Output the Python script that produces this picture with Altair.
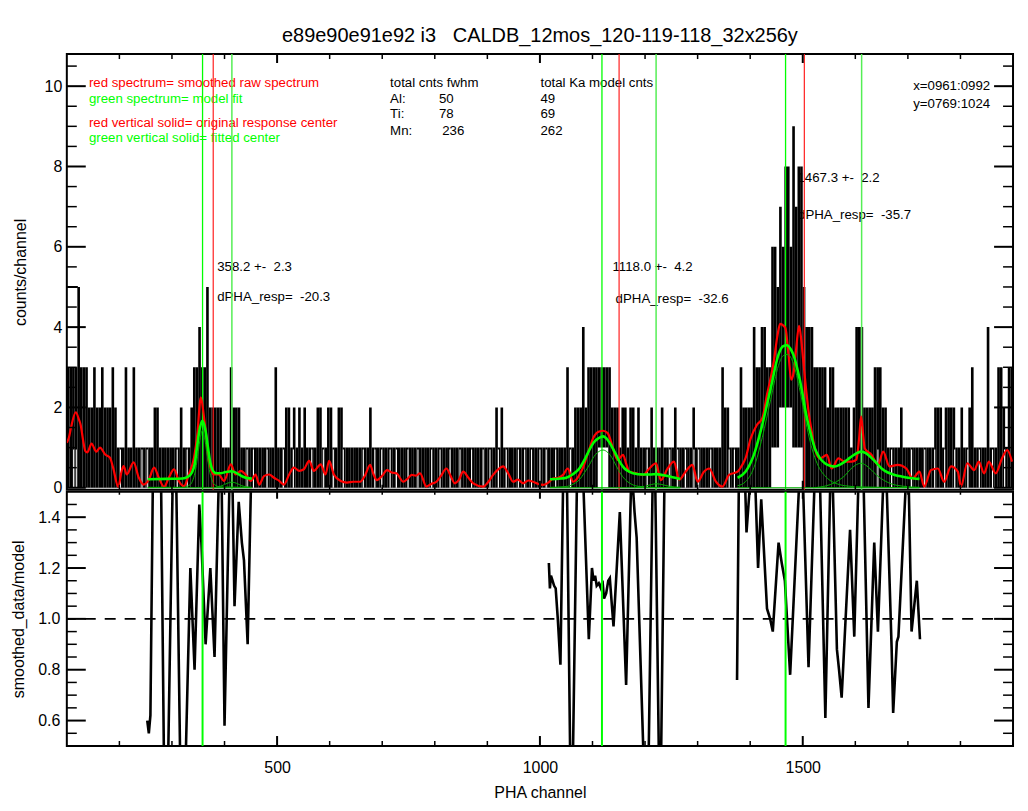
import altair as alt
import pandas as pd

FONT = "Liberation Sans"
X_DOMAIN = [100, 1900]
TOP_DOMAIN = [-0.05, 10.8]
BOT_DOMAIN = [0.5, 1.5]
W, H_TOP, H_BOT = 949, 437, 255


def keep_spaces(s):
    # SVG collapses runs of spaces; keep them with no-break spaces
    out, prev = [], ""
    for ch in s:
        out.append("\u00a0" if (ch == " " and prev == " ") else ch)
        prev = ch
    return "".join(out)


# ---------------- raw spectrum (max counts per 5-channel block, from ch 100) -------------
hist_block = 5
hist_hi = [
    3, 3, 3, 3, 5, 3, 3, 3, 2, 2, 3, 2, 2, 3, 2, 2, 2, 3, 2, 1,   # 100
    1, 1, 3, 1, 1, 3, 1, 1, 1, 1, 1, 1, 1, 2, 2, 1, 1, 1, 1, 1,   # 200
    1, 1, 1, 2, 1, 1, 1, 2, 3, 3, 4, 3, 3, 5, 2, 2, 2, 2, 2, 1,   # 300
    1, 1, 3, 2, 2, 2, 1, 1, 1, 1, 1, 1, 1, 1, 1, 1, 1, 1, 1, 3,   # 400
    1, 1, 1, 2, 2, 1, 2, 1, 2, 1, 2, 1, 1, 1, 1, 2, 2, 1, 1, 2,   # 500
    2, 1, 1, 2, 2, 1, 1, 1, 1, 1, 1, 1, 1, 1, 1, 2, 1, 1, 1, 1,   # 600
    1, 1, 1, 1, 1, 1, 1, 1, 1, 1, 1, 1, 1, 1, 1, 1, 1, 1, 1, 1,   # 700
    1, 1, 1, 1, 1, 1, 1, 1, 1, 1, 1, 1, 1, 1, 1, 1, 1, 1, 1, 1,   # 800
    1, 1, 1, 2, 1, 2, 1, 1, 1, 1, 1, 1, 1, 1, 1, 1, 1, 1, 1, 1,   # 900
    1, 1, 1, 1, 1, 1, 1, 1, 1, 1, 3, 1, 1, 2, 2, 2, 4, 2, 3, 3,   # 1000
    3, 3, 3, 3, 3, 3, 3, 2, 2, 2, 1, 2, 2, 1, 2, 2, 1, 2, 1, 1,   # 1100
    1, 1, 2, 1, 1, 1, 2, 1, 1, 1, 1, 2, 1, 1, 1, 1, 1, 1, 2, 1,   # 1200
    1, 1, 1, 1, 1, 1, 1, 1, 1, 3, 2, 2, 1, 1, 1, 1, 3, 2, 2, 2,   # 1300
    2, 4, 3, 3, 4, 4, 3, 3, 6, 6, 5, 7, 6, 8, 8, 6, 9, 7, 8, 8,   # 1400
    5, 4, 4, 4, 3, 3, 3, 3, 3, 2, 3, 3, 2, 2, 2, 2, 2, 2, 1, 2,   # 1500
    4, 4, 4, 2, 2, 2, 2, 3, 3, 3, 2, 2, 1, 1, 1, 1, 1, 2, 1, 1,   # 1600
    1, 1, 1, 1, 1, 1, 1, 1, 1, 1, 2, 2, 2, 1, 2, 2, 2, 2, 1, 1,   # 1700
    2, 1, 1, 2, 3, 1, 1, 1, 1, 1, 4, 1, 1, 1, 3, 3, 2, 1, 3, 3,   # 1800
]
hist_lo_start = [1110, 1440, 1455]
hist_lo_end = [1130, 1500, 1480]
hist_lo_val = [1, 1, 2]
hist_box_start = [100]
hist_box_end = [121]
hist_box_level = [5]
hist_flat_ch = [113, 118, 202, 243, 253, 310, 329, 443, 455, 481, 512, 531, 566, 588,
                607, 626, 664, 686, 699, 715, 727, 749, 768, 794, 810, 829, 848, 870,
                892, 905, 921, 936, 959, 971, 984, 1000, 1012, 1030, 1058, 1204, 1247,
                1262, 1277, 1293, 1302, 1325, 1360, 1370, 1643, 1669, 1707, 1732, 1751,
                1770, 1789, 1814, 1836, 1861, 1884]

# ---------------- smoothed spectrum (red) ----------------
red_ch = [100, 104, 108, 117, 123, 126, 132, 135, 139, 147, 156, 163, 173, 182, 188, 198,
          204, 208, 214, 227, 237, 246, 256, 266, 275, 285, 294, 304, 313, 323, 332, 342,
          348, 355, 361, 366, 370, 380, 389, 399, 412, 421, 431, 440, 450, 459, 466, 475,
          485, 494, 504, 513, 523, 532, 542, 551, 561, 570, 583, 592, 599, 608, 621, 633,
          645, 658, 667, 677, 683, 690, 700, 709, 718, 727, 740, 748, 756, 764, 772, 784,
          794, 803, 812, 822, 830, 838, 846, 854, 864, 873, 892, 902, 911, 920, 930, 940,
          949, 958, 968, 978, 987, 996, 1006, 1015, 1025, 1035, 1044, 1053, 1063, 1069,
          1075, 1082, 1088, 1095, 1101, 1107, 1113, 1120, 1129, 1134, 1139, 1148, 1158,
          1164, 1170, 1183, 1196, 1208, 1221, 1230, 1243, 1255, 1265, 1277, 1290, 1300,
          1312, 1322, 1335, 1347, 1360, 1376, 1384, 1391, 1401, 1413, 1423, 1432, 1445,
          1452, 1457, 1462, 1467, 1473, 1478, 1483, 1487, 1493, 1497, 1501, 1506, 1511,
          1517, 1523, 1533, 1546, 1555, 1568, 1580, 1593, 1602, 1607, 1611, 1615, 1618,
          1631, 1643, 1653, 1665, 1681, 1697, 1709, 1722, 1731, 1744, 1757, 1769, 1782,
          1795, 1801, 1813, 1826, 1835, 1845, 1854, 1867, 1879, 1889, 1898]
red_val = [1.12, 1.25, 1.5, 1.88, 1.7, 1.58, 1.1, 0.92, 0.88, 1.1, 0.9, 1.0, 0.83, 0.75, 0.5, 0.02,
           0.4, 0.54, 0.33, 0.63, 0.25, 0.08, 0.2, 0.5, 0.25, 0.02, 0.25, 0.46, 0.17, 0.04, 0.33, 0.75,
           1.3, 2.25, 1.75, 1.2, 0.67, 0.33, 0.33, 0.17, 0.58, 0.33, 0.42, 0.33, 0.17, 0.33, 0.08, 0.29,
           0.33, 0.25, 0.17, 0.08, 0.33, 0.5, 0.42, 0.46, 0.67, 0.42, 0.58, 0.33, 0.67, 0.33, 0.17, 0.13,
           0.15, 0.15, 0.3, 0.57, 0.35, 0.19, 0.3, 0.44, 0.38, 0.36, 0.15, 0.22, 0.32, 0.3, 0.36, 0.03,
           0.1, 0.15, 0.3, 0.48, 0.3, 0.11, 0.2, 0.4, 0.25, 0.11, 0.03, 0.15, 0.32, 0.45, 0.53, 0.35,
           0.15, 0.2, 0.11, 0.18, 0.15, 0.1, 0.07, 0.12, 0.23, 0.25, 0.32, 0.48, 0.15, 0.2,
           0.32, 0.5, 0.73, 1.0, 1.23, 1.35, 1.4, 1.42, 1.36, 1.2, 0.98, 0.69, 0.82,
           0.6, 0.4, 0.36, 0.32, 0.48, 0.61, 0.19, 0.48, 0.65, 0.2, 0.4, 0.57, 0.15,
           0.4, 0.48, 0.15, 0.03, 0.32, 0.4, 0.55, 0.73, 1.23, 1.57, 1.73, 2.32, 3.15,
           3.8, 4.08, 4.05, 3.98, 3.3, 2.69, 2.9, 3.4, 4.03, 3.7, 3.15, 2.5, 1.9,
           1.4, 0.98, 0.73, 0.82, 0.48, 0.73, 0.65, 0.65, 0.7, 1.2, 1.78, 1.3, 0.98,
           0.82, 0.57, 0.9, 0.53, 0.57, 0.48, 0.23, 0.4, 0.03, 0.44, 0.48, 0.15, 0.53,
           0.4, 0.03, 0.61, 0.44, 0.65, 0.36, 0.65, 0.36, 0.73, 0.94, 0.65]

# ---------------- model fit (thick green) per line ----------------
al_fit_ch = [254, 290, 320, 330, 338, 343, 348, 353, 358, 363, 368, 373, 378, 384, 392, 402, 414, 424, 434, 444, 452]
al_fit_val = [0.21, 0.22, 0.23, 0.27, 0.38, 0.58, 1.05, 1.48, 1.67, 1.48, 1.05, 0.62, 0.42, 0.36, 0.36, 0.39, 0.41, 0.36, 0.28, 0.24, 0.23]
ti_fit_ch = [1019, 1040, 1050, 1062, 1075, 1085, 1094, 1103, 1110, 1120, 1129, 1137, 1145, 1153, 1161, 1170, 1177, 1196, 1210, 1221, 1235, 1250, 1267]
ti_fit_val = [0.21, 0.23, 0.25, 0.33, 0.48, 0.7, 0.94, 1.14, 1.22, 1.28, 1.19, 1.02, 0.82, 0.62, 0.48, 0.4, 0.36, 0.33, 0.33, 0.34, 0.31, 0.27, 0.22]
mn_fit_ch = [1376, 1391, 1407, 1423, 1439, 1454, 1462, 1470, 1477, 1482, 1495, 1508, 1516, 1523, 1532, 1542, 1552, 1561, 1570, 1580, 1590, 1599, 1611, 1620, 1628, 1640, 1650, 1662, 1675, 1688, 1700, 1722]
mn_fit_val = [0.25, 0.4, 0.82, 1.57, 2.48, 3.32, 3.52, 3.55, 3.45, 3.32, 2.65, 1.73, 1.3, 0.98, 0.75, 0.61, 0.55, 0.53, 0.57, 0.65, 0.75, 0.83, 0.9, 0.86, 0.78, 0.62, 0.48, 0.38, 0.32, 0.28, 0.25, 0.22]

# ---------------- model components (thin green) ----------------
al_ka_ch = [254, 320, 335, 340, 345, 350, 354, 358, 362, 366, 371, 376, 381, 392, 452]
al_ka_val = [0.01, 0.01, 0.08, 0.2, 0.45, 0.9, 1.25, 1.43, 1.25, 0.9, 0.45, 0.2, 0.08, 0.02, 0.01]
al_kb_ch = [380, 395, 405, 414, 423, 433, 448]
al_kb_val = [0.0, 0.05, 0.11, 0.14, 0.11, 0.05, 0.01]
ti_ka_ch = [1019, 1050, 1065, 1075, 1085, 1094, 1103, 1110, 1120, 1129, 1137, 1145, 1153, 1161, 1170, 1185, 1210, 1267]
ti_ka_val = [0.01, 0.03, 0.1, 0.2, 0.38, 0.57, 0.78, 0.88, 0.94, 0.88, 0.75, 0.55, 0.36, 0.22, 0.12, 0.04, 0.01, 0.0]
ti_kb_ch = [1180, 1200, 1212, 1221, 1232, 1245, 1267]
ti_kb_val = [0.0, 0.04, 0.08, 0.1, 0.08, 0.04, 0.01]
mn_ka_ch = [1376, 1391, 1407, 1423, 1439, 1454, 1462, 1470, 1477, 1482, 1495, 1508, 1516, 1523, 1532, 1542, 1552, 1561, 1580, 1611, 1722]
mn_ka_val = [0.05, 0.15, 0.5, 1.25, 2.2, 3.05, 3.28, 3.32, 3.25, 3.1, 2.4, 1.5, 1.05, 0.75, 0.48, 0.3, 0.18, 0.12, 0.05, 0.02, 0.0]
mn_kb_ch = [1520, 1545, 1560, 1570, 1580, 1590, 1600, 1611, 1620, 1630, 1640, 1655, 1670, 1690, 1722]
mn_kb_val = [0.0, 0.05, 0.12, 0.2, 0.3, 0.45, 0.56, 0.61, 0.56, 0.45, 0.32, 0.18, 0.09, 0.04, 0.01]
base_start = [254, 1019, 1376]
base_end = [452, 1267, 1722]
base_level = [0.0, 0.0, 0.0]

# ---------------- ratio smoothed/model ----------------
ratio_al_ch = [253, 256, 259, 268, 272, 276, 287, 290, 305, 318, 322, 335, 343, 352, 356, 364, 373, 381, 392, 393,
               400, 412, 413, 419, 427, 433, 437, 444, 450, 452]
ratio_al_val = [0.6, 0.55, 0.62, 2.4, 2.6, 2.2, 0.0, 0.1, 2.0, 0.1, 0.1, 1.2, 0.8, 1.45, 1.3, 0.9, 1.2, 0.85, 1.8, 1.8,
                0.58, 1.8, 1.8, 1.05, 1.46, 1.3, 1.23, 0.9, 1.5, 1.65]
ratio_ti_ch = [1017, 1019, 1021, 1024, 1027, 1030, 1034, 1039, 1046, 1050, 1059, 1061, 1073, 1078, 1093, 1099, 1102,
               1105, 1108, 1112, 1116, 1119, 1122, 1126, 1130, 1133, 1137, 1140, 1152, 1164, 1173, 1176, 1180, 1184,
               1201, 1205, 1217, 1228, 1229, 1239, 1250, 1267]
ratio_ti_val = [1.22, 1.12, 1.17, 1.15, 1.13, 1.12, 1.0, 0.82, 1.8, 1.8, 0.2, 0.2, 1.9, 1.8, 0.92, 1.2, 1.15,
                1.17, 1.13, 1.14, 1.12, 1.15, 1.08, 1.1, 1.15, 1.16, 1.05, 0.97, 1.42, 0.74, 1.5, 1.55, 1.42, 1.32,
                0.2, 0.2, 1.9, 0.2, 0.2, 1.9, 2.5, 2.5]
ratio_mn_ch = [1375, 1380, 1386, 1388, 1393, 1402, 1407, 1415, 1421, 1432, 1438, 1443, 1454, 1460, 1466, 1476, 1497,
               1498, 1511, 1525, 1531, 1543, 1554, 1555, 1565, 1569, 1574, 1590, 1598, 1608, 1614, 1625, 1636, 1643,
               1656, 1657, 1669, 1672, 1679, 1682, 1700, 1707, 1717, 1723]
ratio_mn_val = [0.76, 1.9, 1.9, 1.7, 1.34, 1.6, 1.7, 1.2, 1.47, 1.04, 1.0, 0.95, 1.3, 1.22, 1.15, 0.78, 1.7,
                1.7, 0.81, 1.7, 1.7, 0.61, 1.7, 1.7, 0.88, 0.8, 0.69, 1.35, 0.93, 1.7, 1.7, 0.65, 1.3, 0.95,
                1.7, 1.7, 0.89, 0.63, 0.91, 0.93, 1.7, 0.95, 1.15, 0.92]
ratio_ref = [1.0]

# ---------------- vertical markers ----------------
fit_centers = [358.2, 1118.0, 1467.3]
kb_centers = [414.0, 1221.0, 1612.0]
resp_centers = [378.5, 1150.6, 1503.0]

# ---------------- annotation text ----------------
legend_text = ["red spectrum= smoothed raw spectrum", "green spectrum= model fit",
               "red vertical solid= original response center", "green vertical solid= fitted center"]
legend_color = ["#ff0000", "#00ff00", "#ff0000", "#00ff00"]
legend_ch = [142, 142, 142, 142]
legend_val = [10.07, 9.67, 9.09, 8.70]

table_text = ["total cnts fwhm", "Al:", "Ti:", "Mn:", "50", "78", "236",
              "total Ka model cnts", "49", "69", "262"]
table_ch = [715, 715, 715, 715, 808, 808, 814, 1001, 1001, 1001, 1001]
table_val = [10.07, 9.68, 9.30, 8.88, 9.68, 9.30, 8.88, 10.07, 9.68, 9.30, 8.88]

region_text = ["x=0961:0992", "y=0769:1024"]
region_ch = [1710, 1710]
region_val = [10.0, 9.55]

peak_text = ["358.2 +-  2.3", "dPHA_resp=  -20.3", "1118.0 +-  4.2", "dPHA_resp=  -32.6",
             "1467.3 +-  2.2", "dPHA_resp=  -35.7"]
peak_ch = [386, 386, 1138, 1144, 1490, 1491]
peak_val = [5.49, 4.74, 5.49, 4.70, 7.72, 6.80]

title_text = "e89e90e91e92 i3   CALDB_12mos_120-119-118_32x256y"

# ---------------- tick positions ----------------
x_major = [500, 1000, 1500]
x_minor = [200, 300, 400, 600, 700, 800, 900, 1100, 1200, 1300, 1400, 1600, 1700, 1800]
top_y_major = [0, 2, 4, 6, 8, 10]
top_y_minor = [0.5, 1, 1.5, 2.5, 3, 3.5, 4.5, 5, 5.5, 6.5, 7, 7.5, 8.5, 9, 9.5, 10.5]
bot_y_major = [0.6, 0.8, 1.0, 1.2, 1.4]
bot_y_minor = [0.55, 0.65, 0.7, 0.75, 0.85, 0.9, 0.95, 1.05, 1.1, 1.15, 1.25, 1.3, 1.35, 1.45]

# =====================================================================
AX_TOP_Y = alt.Axis(values=top_y_major, format="d", title="counts/channel", ticks=False, tickSize=0,
                    domain=False, grid=False, labelPadding=5, labelFontSize=16, titleFontSize=16,
                    titleFontWeight="normal", titleX=-46, titleBaseline="middle", labelColor="black",
                    titleColor="black", labelFont=FONT, titleFont=FONT)
AX_BOT_Y = alt.Axis(values=bot_y_major, format=".1f", title="smoothed_data/model", ticks=False, tickSize=0,
                    domain=False, grid=False, labelPadding=7, labelFontSize=16, titleFontSize=16,
                    titleFontWeight="normal", titleX=-48, titleBaseline="middle", labelColor="black",
                    titleColor="black", labelFont=FONT, titleFont=FONT)
AX_BOT_X = alt.Axis(values=x_major, format="d", title="PHA channel", ticks=False, tickSize=0,
                    domain=False, grid=False, labelPadding=14, titlePadding=9, labelFontSize=16,
                    titleFontSize=16, titleFontWeight="normal", labelColor="black", titleColor="black",
                    labelFont=FONT, titleFont=FONT)

xs = alt.Scale(domain=X_DOMAIN, nice=False, zero=False)
ys_top = alt.Scale(domain=TOP_DOMAIN, nice=False, zero=False)
ys_bot = alt.Scale(domain=BOT_DOMAIN, nice=False, zero=False)


def X(field, axis):
    return alt.X(f"{field}:Q", scale=xs, axis=axis)


def YT(field):
    return alt.Y(f"{field}:Q", scale=ys_top, axis=AX_TOP_Y)


def YB(field):
    return alt.Y(f"{field}:Q", scale=ys_bot, axis=AX_BOT_Y)


def series(pairs):
    rows = []
    for seg, (chs, vals) in enumerate(pairs):
        for c, v in zip(chs, vals):
            rows.append({"ch": c, "v": v, "seg": seg})
    return pd.DataFrame(rows)


def tick_layers(xaxis, yfun, ymajor, yminor, H, xlen_top, xlen_bot, ylen):
    layers = []
    for vals, ln, sw in [(x_major, 1, 2.0), (x_minor, 0, 1.5)]:
        df = pd.DataFrame({"t": vals})
        lt = xlen_top[ln]
        lb = xlen_bot[ln]
        layers.append(alt.Chart(df).mark_rule(color="black", strokeWidth=sw).encode(
            x=X("t", xaxis), y=alt.value(0), y2=alt.value(lt)))
        layers.append(alt.Chart(df).mark_rule(color="black", strokeWidth=sw).encode(
            x=X("t", xaxis), y=alt.value(H), y2=alt.value(H - lb)))
    for vals, ln, sw in [(ymajor, 1, 2.0), (yminor, 0, 1.5)]:
        df = pd.DataFrame({"t": vals})
        l = ylen[ln]
        layers.append(alt.Chart(df).mark_rule(color="black", strokeWidth=sw).encode(
            y=yfun("t"), x=alt.value(0), x2=alt.value(l)))
        layers.append(alt.Chart(df).mark_rule(color="black", strokeWidth=sw).encode(
            y=yfun("t"), x=alt.value(W), x2=alt.value(W - l)))
    return layers


# ---------------- histogram blocks ----------------
hist_rows = []
for i, hi in enumerate(hist_hi):
    s = 100 + hist_block * i
    e = s + hist_block
    lo = 0
    for a, b, lv in zip(hist_lo_start, hist_lo_end, hist_lo_val):
        if s >= a and e <= b:
            lo = max(lo, lv)
    hist_rows.append({"s": s, "e": e, "lo": lo, "hi": hi})
hist_df = pd.DataFrame(hist_rows)

box_df = pd.DataFrame({"s": hist_box_start, "e": hist_box_end, "v": hist_box_level})
flat_df = pd.DataFrame({"ch": hist_flat_ch, "lo": [0.0] * len(hist_flat_ch), "hi": [0.95] * len(hist_flat_ch)})

# ---------------- top panel ----------------
NX = None


def text_layer(chs, vals, texts, colors=None):
    df = pd.DataFrame({"ch": chs, "v": vals, "t": [keep_spaces(t) for t in texts]})
    enc = dict(x=X("ch", NX), y=YT("v"), text="t:N")
    if colors is not None:
        df["c"] = colors
        enc["color"] = alt.Color("c:N", scale=None)
        return alt.Chart(df).mark_text(align="left", baseline="middle", font=FONT, fontSize=13.3).encode(**enc)
    return alt.Chart(df).mark_text(align="left", baseline="middle", font=FONT, fontSize=13.3,
                                   color="black").encode(**enc)


txt_legend = text_layer(legend_ch, legend_val, legend_text, legend_color)
txt_table = text_layer(table_ch, table_val, table_text)
txt_region = text_layer(region_ch, region_val, region_text)
txt_peak = text_layer(peak_ch, peak_val, peak_text)

bars = alt.Chart(hist_df).mark_rect(color="black", clip=True).encode(
    x=X("s", NX), x2="e:Q", y=YT("lo"), y2="hi:Q")
box = alt.Chart(box_df).mark_rule(color="black", strokeWidth=2, clip=True).encode(
    x=X("s", NX), x2="e:Q", y=YT("v"))
flats = alt.Chart(flat_df).mark_rule(color="white", strokeWidth=1.1, clip=True).encode(
    x=X("ch", NX), y=YT("lo"), y2="hi:Q")

v_resp = alt.Chart(pd.DataFrame({"ch": resp_centers})).mark_rule(color="#ff2020", strokeWidth=1.2).encode(
    x=X("ch", NX))
v_fit = alt.Chart(pd.DataFrame({"ch": fit_centers})).mark_rule(color="#00ff00", strokeWidth=1.3).encode(
    x=X("ch", NX))
v_kb = alt.Chart(pd.DataFrame({"ch": kb_centers})).mark_rule(color="#55ee55", strokeWidth=1.5).encode(
    x=X("ch", NX))

red_line = alt.Chart(pd.DataFrame({"ch": red_ch, "v": red_val})).mark_line(
    color="#ff0000", strokeWidth=2.2, interpolate="monotone", clip=True).encode(
    x=X("ch", NX), y=YT("v"))

comp_df = series([(al_ka_ch, al_ka_val), (al_kb_ch, al_kb_val), (ti_ka_ch, ti_ka_val),
                  (ti_kb_ch, ti_kb_val), (mn_ka_ch, mn_ka_val), (mn_kb_ch, mn_kb_val)])
comp_lines = alt.Chart(comp_df).mark_line(color="#00b000", strokeWidth=1, interpolate="monotone", clip=True).encode(
    x=X("ch", NX), y=YT("v"), detail="seg:N")
base_df = pd.DataFrame({"s": base_start, "e": base_end, "v": base_level})
base_lines = alt.Chart(base_df).mark_rule(color="#00b000", strokeWidth=1, clip=True).encode(
    x=X("s", NX), x2="e:Q", y=YT("v"))

fit_df = series([(al_fit_ch, al_fit_val), (ti_fit_ch, ti_fit_val), (mn_fit_ch, mn_fit_val)])
fit_lines = alt.Chart(fit_df).mark_line(color="#00ff00", strokeWidth=2.6, interpolate="monotone", clip=True).encode(
    x=X("ch", NX), y=YT("v"), detail="seg:N")

top_layers = [txt_legend, txt_table, txt_region, txt_peak, bars, box, flats, v_resp, v_kb, v_fit,
              red_line, comp_lines, base_lines, fit_lines]
top_layers += tick_layers(NX, YT, top_y_major, top_y_minor, H_TOP, (5, 9), (5, 9), (10, 19))

top = alt.layer(*top_layers).properties(
    width=W, height=H_TOP,
    title=alt.TitleParams(text=keep_spaces(title_text), fontSize=20, font=FONT, fontWeight="normal",
                          anchor="middle", frame="group", offset=7, color="black"))

# ---------------- bottom panel ----------------
ratio_df = series([(ratio_al_ch, ratio_al_val), (ratio_ti_ch, ratio_ti_val), (ratio_mn_ch, ratio_mn_val)])
ratio_lines = alt.Chart(ratio_df).mark_line(color="black", strokeWidth=2.6, clip=True).encode(
    x=X("ch", AX_BOT_X), y=YB("v"), detail="seg:N")
ref_line = alt.Chart(pd.DataFrame({"v": ratio_ref})).mark_rule(
    color="black", strokeWidth=2, strokeDash=[11, 9]).encode(y=YB("v"))
v_fit_b = alt.Chart(pd.DataFrame({"ch": fit_centers})).mark_rule(color="#00ff00", strokeWidth=2).encode(
    x=X("ch", AX_BOT_X))

bot_layers = [ratio_lines, ref_line, v_fit_b]
bot_layers += tick_layers(AX_BOT_X, YB, bot_y_major, bot_y_minor, H_BOT, (3, 7), (5, 10), (10, 19))
bot = alt.layer(*bot_layers).properties(width=W, height=H_BOT)

chart = alt.vconcat(top, bot, spacing=2, bounds="flush").properties(
    padding={"left": 1, "top": 16, "right": 5, "bottom": 5}
).configure(font=FONT).configure_view(stroke="black", strokeWidth=2)

chart.save("out.html", embed_options={"renderer": "svg", "actions": False})
